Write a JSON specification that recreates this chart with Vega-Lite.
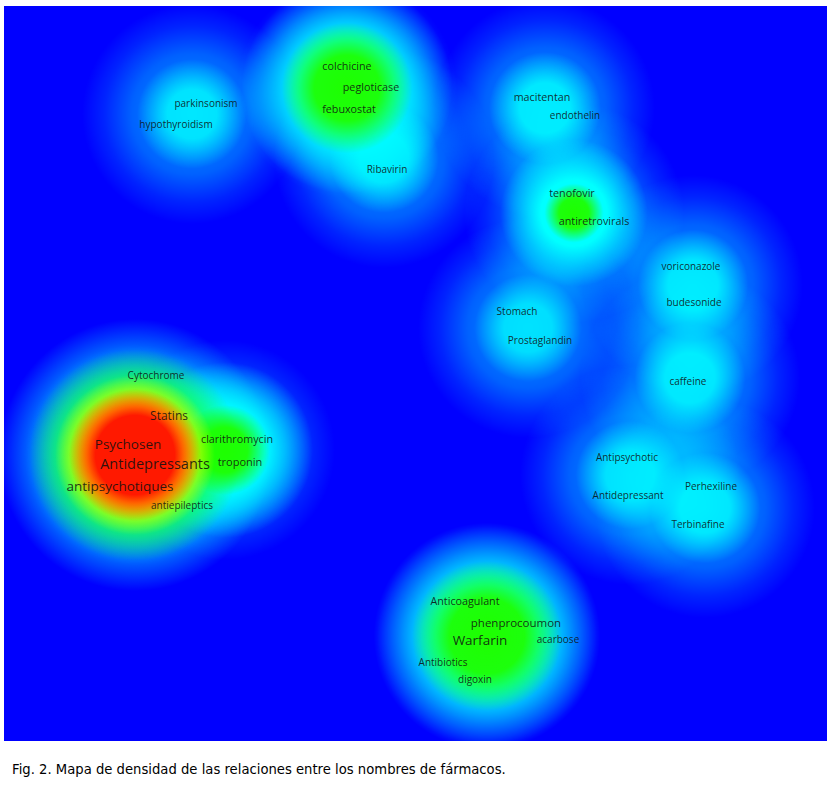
{
  "$schema": "https://vega.github.io/schema/vega-lite/v6.json",
  "width": 823,
  "height": 735,
  "padding": {"left": 4, "top": 6, "right": 5, "bottom": 0},
  "autosize": {"type": "pad"},
  "background": "#ffffff",
  "config": {"view": {"fill": "#0000ff", "stroke": null}},
  "title": {
    "text": "Fig. 2. Mapa de densidad de las relaciones entre los nombres de fármacos.",
    "orient": "bottom",
    "anchor": "start",
    "offset": 23,
    "dx": 8,
    "font": "DejaVu Sans",
    "fontSize": 13.2,
    "fontWeight": "normal",
    "color": "#000000"
  },
  "datasets": {
    "blobs": [
      {"id": "A", "x": 135, "y": 455, "density": 28},
      {"id": "B", "x": 225, "y": 450, "density": 6.85},
      {"id": "E", "x": 347, "y": 88, "density": 12},
      {"id": "F", "x": 384, "y": 158, "density": 2.1},
      {"id": "G", "x": 545, "y": 108, "density": 2.2},
      {"id": "H", "x": 574, "y": 213, "density": 4.2},
      {"id": "I", "x": 192, "y": 114, "density": 2.1},
      {"id": "J", "x": 693, "y": 285, "density": 2.15},
      {"id": "K", "x": 690, "y": 378, "density": 2.15},
      {"id": "L", "x": 528, "y": 328, "density": 2.0},
      {"id": "M", "x": 630, "y": 475, "density": 2.05},
      {"id": "N", "x": 705, "y": 508, "density": 2.15},
      {"id": "O", "x": 487, "y": 636, "density": 15.1}
    ],
    "labels": [
      {"term": "colchicine", "x": 347, "y": 67, "weight": 2.5},
      {"term": "pegloticase", "x": 371, "y": 88, "weight": 2.5},
      {"term": "febuxostat", "x": 349, "y": 110, "weight": 2.5},
      {"term": "Ribavirin", "x": 387, "y": 170, "weight": 1},
      {"term": "parkinsonism", "x": 206, "y": 104, "weight": 1},
      {"term": "hypothyroidism", "x": 176, "y": 125, "weight": 1},
      {"term": "macitentan", "x": 542, "y": 98, "weight": 2.5},
      {"term": "endothelin", "x": 575, "y": 116, "weight": 1},
      {"term": "tenofovir", "x": 572, "y": 194, "weight": 2.5},
      {"term": "antiretrovirals", "x": 594, "y": 222, "weight": 2.5},
      {"term": "voriconazole", "x": 691, "y": 267, "weight": 1},
      {"term": "budesonide", "x": 694, "y": 303, "weight": 1},
      {"term": "Stomach", "x": 517, "y": 312, "weight": 1},
      {"term": "Prostaglandin", "x": 540, "y": 341, "weight": 1},
      {"term": "caffeine", "x": 688, "y": 382, "weight": 1},
      {"term": "Cytochrome", "x": 156, "y": 376, "weight": 1},
      {"term": "Statins", "x": 169, "y": 416, "weight": 5},
      {"term": "clarithromycin", "x": 237, "y": 440, "weight": 2.5},
      {"term": "Psychosen", "x": 128, "y": 445, "weight": 8},
      {"term": "Antidepressants", "x": 155, "y": 465, "weight": 10},
      {"term": "troponin", "x": 240, "y": 463, "weight": 3},
      {"term": "antipsychotiques", "x": 120, "y": 487, "weight": 8},
      {"term": "antiepileptics", "x": 182, "y": 506, "weight": 1},
      {"term": "Antipsychotic", "x": 627, "y": 458, "weight": 1},
      {"term": "Perhexiline", "x": 711, "y": 487, "weight": 1},
      {"term": "Antidepressant", "x": 628, "y": 496, "weight": 1},
      {"term": "Terbinafine", "x": 698, "y": 525, "weight": 1},
      {"term": "Anticoagulant", "x": 465, "y": 602, "weight": 2.5},
      {"term": "phenprocoumon", "x": 516, "y": 624, "weight": 4},
      {"term": "Warfarin", "x": 480, "y": 641, "weight": 8},
      {"term": "acarbose", "x": 558, "y": 640, "weight": 1},
      {"term": "Antibiotics", "x": 443, "y": 663, "weight": 1},
      {"term": "digoxin", "x": 475, "y": 680, "weight": 1}
    ]
  },
  "encoding": {
    "x": {"field": "x", "type": "quantitative", "scale": {"domain": [4, 827], "nice": false, "zero": false}, "axis": null},
    "y": {"field": "y", "type": "quantitative", "scale": {"domain": [6, 741], "nice": false, "zero": false, "reverse": true}, "axis": null}
  },
  "layer": [
    {
      "data": {"name": "blobs"},
      "mark": {
        "type": "point", "shape": "circle", "filled": true, "opacity": 1, "strokeWidth": 0, "clip": true, "size": 48400,
        "fill": {"gradient": "radial", "x1": 0.5, "y1": 0.5, "r1": 0, "x2": 0.5, "y2": 0.5, "r2": 0.5,
          "stops": [{"offset": 0, "color": "rgba(0,255,255,0.6)"}, {"offset": 0.3, "color": "rgba(0,255,255,0.5)"}, {"offset": 0.55, "color": "rgba(0,255,255,0.38)"}, {"offset": 0.8, "color": "rgba(0,255,255,0.14)"}, {"offset": 1, "color": "rgba(0,255,255,0)"}]}
      },
      "encoding": {}
    },
    {
      "data": {"name": "blobs"},
      "mark": {
        "type": "point", "shape": "circle", "filled": true, "strokeWidth": 0, "clip": true,
        "fill": {"gradient": "radial", "x1": 0.5, "y1": 0.5, "r1": 0, "x2": 0.5, "y2": 0.5, "r2": 0.5,
          "stops": [{"offset": 0, "color": "rgba(0,255,255,1)"}, {"offset": 0.45, "color": "rgba(0,255,255,1)"}, {"offset": 0.72, "color": "rgba(0,255,255,0.5)"}, {"offset": 1, "color": "rgba(0,255,255,0)"}]}
      },
      "encoding": {
        "size": {"field": "density", "type": "quantitative", "scale": {"type": "pow", "exponent": 0.5, "domain": [0.5, 28], "range": [0, 73984], "clamp": true}, "legend": null},
        "opacity": {"field": "density", "type": "quantitative", "scale": {"domain": [1.95, 2.6], "range": [0.7, 1], "clamp": true}, "legend": null}
      }
    },
    {
      "data": {"name": "blobs"},
      "mark": {
        "type": "point", "shape": "circle", "filled": true, "opacity": 1, "strokeWidth": 0, "clip": true,
        "fill": {"gradient": "radial", "x1": 0.5, "y1": 0.5, "r1": 0, "x2": 0.5, "y2": 0.5, "r2": 0.5,
          "stops": [{"offset": 0, "color": "rgba(30,255,0,1)"}, {"offset": 0.5, "color": "rgba(30,255,0,0.95)"}, {"offset": 1, "color": "rgba(30,255,0,0)"}]}
      },
      "encoding": {"size": {"field": "density", "type": "quantitative", "scale": {"type": "linear", "domain": [2.2, 28], "range": [0, 44944], "clamp": true}, "legend": null}}
    },
    {
      "data": {"name": "blobs"},
      "mark": {
        "type": "point", "shape": "circle", "filled": true, "opacity": 1, "strokeWidth": 0, "clip": true,
        "fill": {"gradient": "radial", "x1": 0.5, "y1": 0.5, "r1": 0, "x2": 0.5, "y2": 0.5, "r2": 0.5,
          "stops": [{"offset": 0, "color": "rgba(255,255,0,1)"}, {"offset": 0.6, "color": "rgba(255,255,0,1)"}, {"offset": 1, "color": "rgba(255,255,0,0)"}]}
      },
      "encoding": {"size": {"field": "density", "type": "quantitative", "scale": {"type": "linear", "domain": [20, 28], "range": [0, 25600], "clamp": true}, "legend": null}}
    },
    {
      "data": {"name": "blobs"},
      "mark": {
        "type": "point", "shape": "circle", "filled": true, "opacity": 1, "strokeWidth": 0, "clip": true,
        "fill": {"gradient": "radial", "x1": 0.5, "y1": 0.5, "r1": 0, "x2": 0.5, "y2": 0.5, "r2": 0.5,
          "stops": [{"offset": 0, "color": "rgba(255,25,0,1)"}, {"offset": 0.6, "color": "rgba(255,25,0,1)"}, {"offset": 1, "color": "rgba(255,25,0,0)"}]}
      },
      "encoding": {"size": {"field": "density", "type": "quantitative", "scale": {"type": "linear", "domain": [22, 28], "range": [0, 17424], "clamp": true}, "legend": null}}
    },
    {
      "data": {"name": "labels"},
      "mark": {"type": "text", "font": "Open Sans", "fill": "#111111", "fillOpacity": 0.88},
      "encoding": {
        "text": {"field": "term", "type": "nominal"},
        "size": {"field": "weight", "type": "quantitative", "scale": {"domain": [1, 10], "range": [10, 14.5]}, "legend": null}
      }
    }
  ],
  "resolve": {"scale": {"size": "independent", "opacity": "independent"}}
}
